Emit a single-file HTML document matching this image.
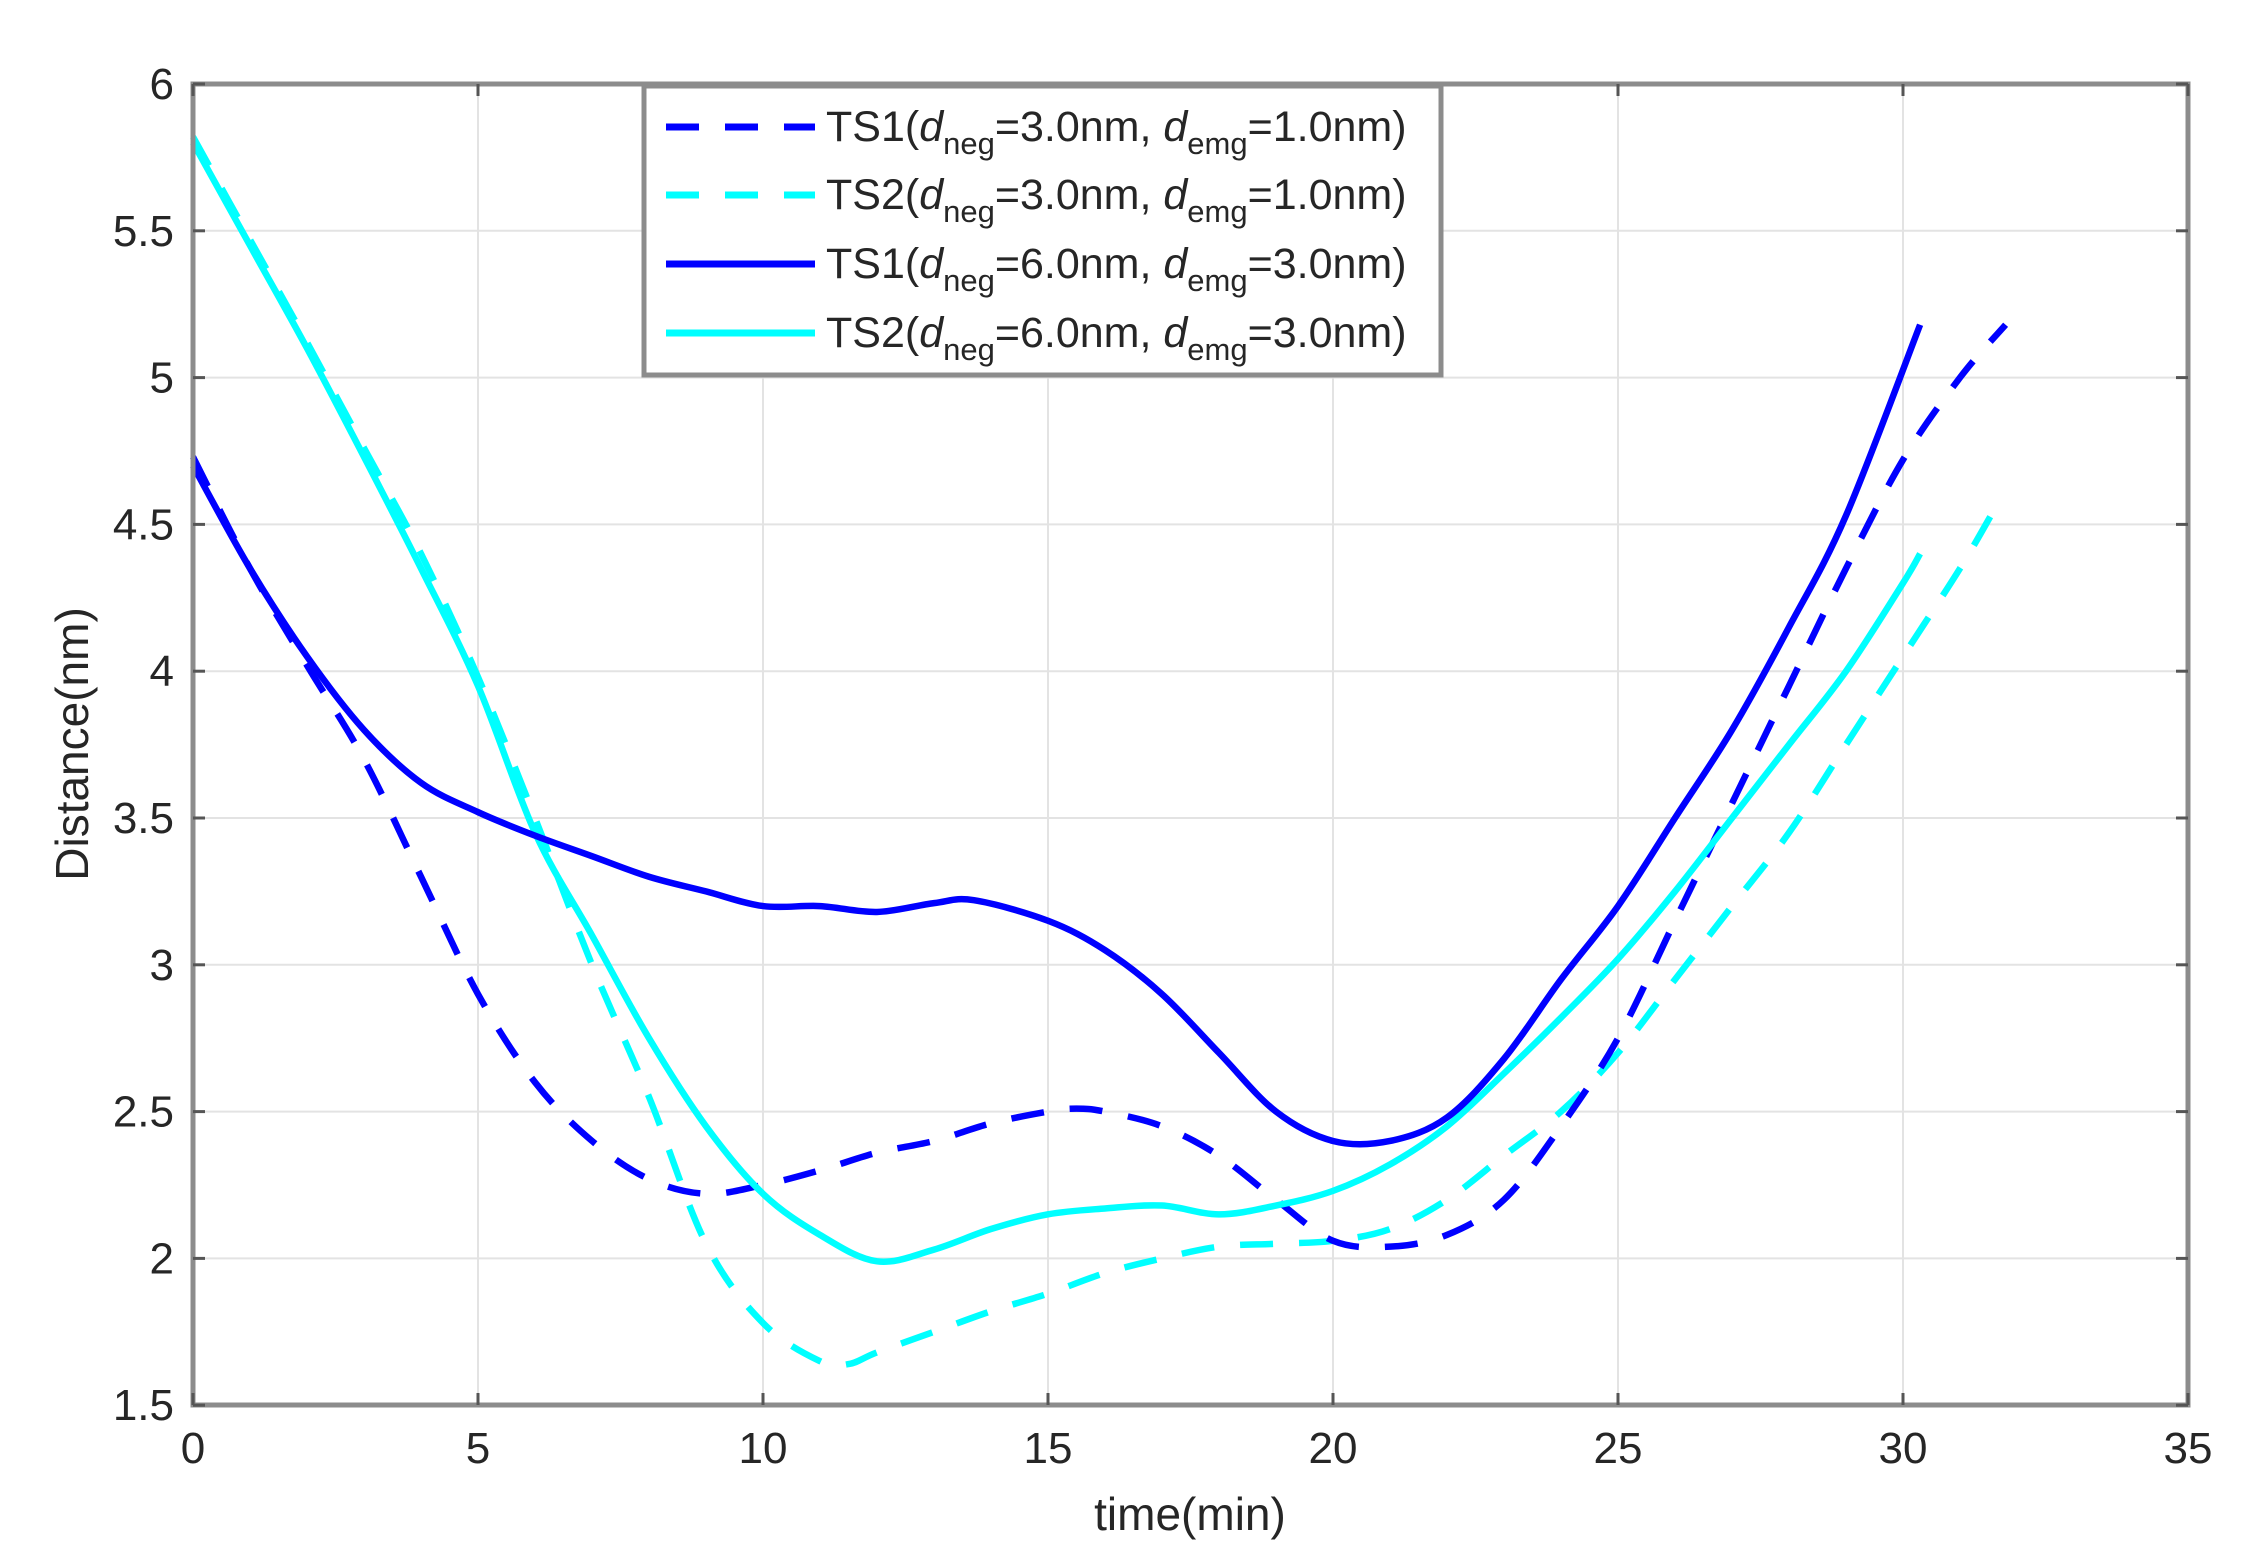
<!DOCTYPE html>
<html><head><meta charset="utf-8"><style>html,body{margin:0;padding:0;background:#fff}svg{display:block}text{font-family:"Liberation Sans",sans-serif;fill:#262626}</style></head>
<body>
<svg id="s" width="2260" height="1565" viewBox="0 0 2260 1565" xmlns="http://www.w3.org/2000/svg">
<g id="grid" stroke="#e3e3e3" stroke-width="2"></g>
<g id="curves" fill="none" stroke-width="6.5" stroke-linejoin="round"></g>
<rect x="193" y="84" width="1995" height="1321" fill="none" stroke="#8c8c8c" stroke-width="5"/>
<g id="ticks" stroke="#555" stroke-width="3"></g>
<g id="labels" font-size="44"></g>
<text x="1190" y="1530" font-size="46" text-anchor="middle">time(min)</text>
<text transform="translate(88,744) rotate(-90)" font-size="46" text-anchor="middle">Distance(nm)</text>
<rect x="644" y="86" width="797" height="289" fill="#fff" stroke="#8c8c8c" stroke-width="5"/>
<g stroke-width="7">
<line x1="666" y1="127" x2="815" y2="127" stroke="#0000ff" stroke-dasharray="33 26"/>
<line x1="666" y1="195" x2="815" y2="195" stroke="#00ffff" stroke-dasharray="33 26"/>
<line x1="666" y1="264" x2="815" y2="264" stroke="#0000ff"/>
<line x1="666" y1="333" x2="815" y2="333" stroke="#00ffff"/>
</g>
<g font-size="43">
<text x="826" y="141">TS1(<tspan font-style="italic">d</tspan><tspan font-size="31" dy="13">neg</tspan><tspan dy="-13">=3.0nm, </tspan><tspan font-style="italic">d</tspan><tspan font-size="31" dy="13">emg</tspan><tspan dy="-13">=1.0nm)</tspan></text>
<text x="826" y="209">TS2(<tspan font-style="italic">d</tspan><tspan font-size="31" dy="13">neg</tspan><tspan dy="-13">=3.0nm, </tspan><tspan font-style="italic">d</tspan><tspan font-size="31" dy="13">emg</tspan><tspan dy="-13">=1.0nm)</tspan></text>
<text x="826" y="278">TS1(<tspan font-style="italic">d</tspan><tspan font-size="31" dy="13">neg</tspan><tspan dy="-13">=6.0nm, </tspan><tspan font-style="italic">d</tspan><tspan font-size="31" dy="13">emg</tspan><tspan dy="-13">=3.0nm)</tspan></text>
<text x="826" y="347">TS2(<tspan font-style="italic">d</tspan><tspan font-size="31" dy="13">neg</tspan><tspan dy="-13">=6.0nm, </tspan><tspan font-style="italic">d</tspan><tspan font-size="31" dy="13">emg</tspan><tspan dy="-13">=3.0nm)</tspan></text>
</g>
</svg>
<script>
var NS="http://www.w3.org/2000/svg";
function X(v){return 193+v*57;}
function Y(v){return 84+(6-v)*293.6;}
function el(p,t,a,txt){var e=document.createElementNS(NS,t);for(var k in a)e.setAttribute(k,a[k]);if(txt!==undefined)e.textContent=txt;document.getElementById(p).appendChild(e);}
for(var i=1;i<7;i++){el("grid","line",{x1:X(i*5),y1:84,x2:X(i*5),y2:1405});}
for(var v=2;v<6;v+=0.5){el("grid","line",{x1:193,y1:Y(v),x2:2188,y2:Y(v)});}
for(var i=0;i<=7;i++){var x=X(i*5);el("ticks","line",{x1:x,y1:1405,x2:x,y2:1393});el("ticks","line",{x1:x,y1:84,x2:x,y2:96});
el("labels","text",{x:x,y:1463,"text-anchor":"middle"},String(i*5));}
for(var j=0;j<=9;j++){var v=1.5+j*0.5;var y=Y(v);el("ticks","line",{x1:193,y1:y,x2:205,y2:y});el("ticks","line",{x1:2188,y1:y,x2:2176,y2:y});
el("labels","text",{x:174,y:y+15,"text-anchor":"end"},String(v));}
var data={
ts1s:[[0,4.7],[1,4.35],[2,4.05],[3,3.8],[4,3.62],[5,3.52],[6,3.44],[7,3.37],[8,3.3],[9,3.25],[10,3.2],[11,3.2],[12,3.18],[13,3.21],[13.7,3.22],[15,3.15],[16,3.05],[17,2.9],[18,2.7],[19,2.5],[20,2.4],[21,2.4],[22,2.48],[23,2.68],[24,2.95],[25,3.2],[26,3.5],[27,3.8],[28,4.15],[29,4.53],[30.3,5.18]],
ts1d:[[0,4.73],[1,4.35],[2,4.02],[3,3.7],[4,3.3],[5,2.9],[6,2.6],[7,2.4],[8,2.27],[9,2.22],[10,2.25],[11,2.3],[12,2.36],[13,2.4],[14,2.46],[15,2.5],[15.5,2.51],[16,2.5],[17,2.45],[18,2.35],[19,2.2],[20,2.06],[21,2.04],[22,2.08],[23,2.2],[24,2.45],[25,2.75],[26,3.15],[27,3.55],[28,3.95],[29,4.35],[30,4.72],[31,5.0],[31.8,5.18]],
ts2s:[[0,5.8],[1,5.45],[2,5.1],[3,4.73],[4,4.35],[5,3.95],[6,3.45],[7,3.1],[8,2.75],[9,2.45],[10,2.22],[11,2.08],[12,1.99],[13,2.03],[14,2.1],[15,2.15],[16,2.17],[17,2.18],[18,2.15],[19,2.18],[20,2.23],[21,2.32],[22,2.45],[23,2.63],[24,2.82],[25,3.02],[26,3.25],[27,3.5],[28,3.75],[29,4.0],[30,4.3],[30.3,4.4]],
ts2d:[[0,5.82],[1,5.47],[2,5.12],[3,4.76],[4,4.4],[5,3.98],[6,3.5],[7,3.0],[8,2.55],[9,2.05],[10,1.78],[11,1.65],[11.5,1.64],[12,1.68],[13,1.75],[14,1.82],[15,1.88],[16,1.95],[17,2.0],[18,2.04],[19,2.05],[20,2.06],[21,2.1],[22,2.2],[23,2.35],[24,2.5],[25,2.7],[26,2.95],[27,3.2],[28,3.45],[29,3.75],[30,4.05],[31,4.35],[31.6,4.55]]};
function path(pts){var p=pts.map(function(a){return[X(a[0]),Y(a[1])];});var d="M"+p[0][0]+","+p[0][1];
for(var i=0;i<p.length-1;i++){var p0=p[i-1]||p[i],p1=p[i],p2=p[i+1],p3=p[i+2]||p2;
d+=" C"+(p1[0]+(p2[0]-p0[0])/6)+","+(p1[1]+(p2[1]-p0[1])/6)+" "+(p2[0]-(p3[0]-p1[0])/6)+","+(p2[1]-(p3[1]-p1[1])/6)+" "+p2[0]+","+p2[1];}return d;}
el("curves","path",{d:path(data.ts2d),stroke:"#00ffff","stroke-dasharray":"33 26"});
el("curves","path",{d:path(data.ts1d),stroke:"#0000ff","stroke-dasharray":"33 26"});
el("curves","path",{d:path(data.ts2s),stroke:"#00ffff"});
el("curves","path",{d:path(data.ts1s),stroke:"#0000ff"});
</script>
</body></html>
